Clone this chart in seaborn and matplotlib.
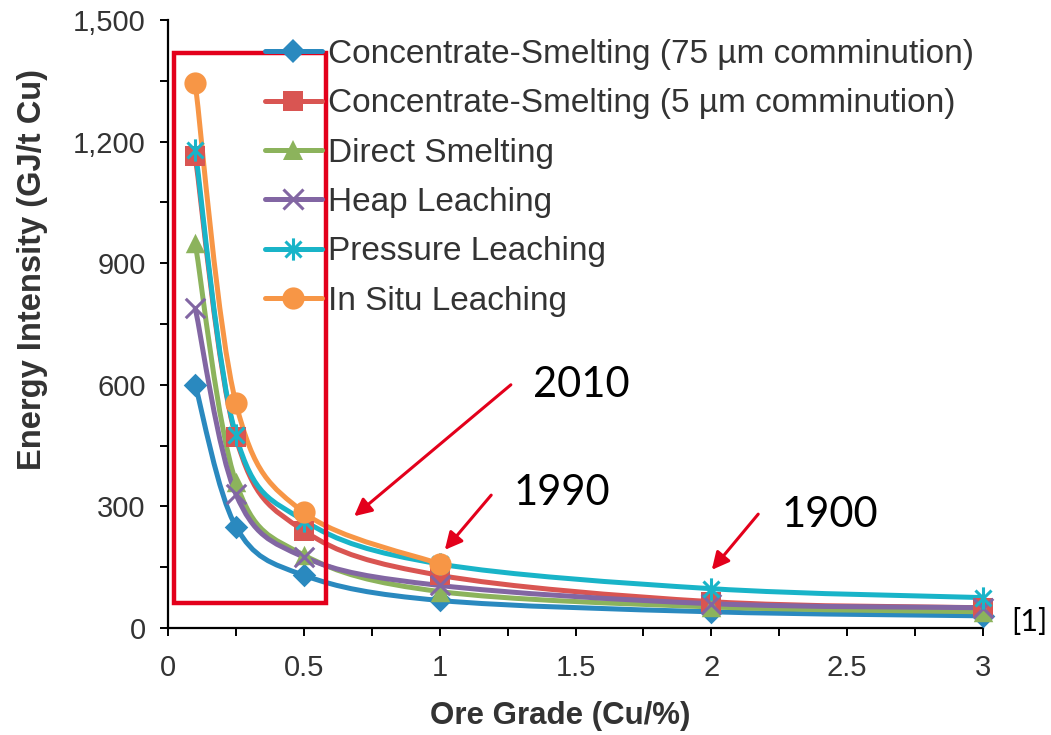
import matplotlib

matplotlib.use("Agg")
import matplotlib.pyplot as plt
import numpy as np
import seaborn as sns
from matplotlib.lines import Line2D
from matplotlib.patches import FancyArrowPatch, PathPatch, Rectangle
from matplotlib.path import Path
from matplotlib.ticker import MultipleLocator, StrMethodFormatter

""" Data read from the chart """
ore_grade = [0.1, 0.25, 0.5, 1, 2, 3]
conc_75um = [600, 250, 130, 68, 40, 30]
conc_5um = [1165, 470, 240, 130, 65, 50]
direct_smelting = [950, 360, 180, 90, 52, 40]
heap_leaching = [790, 330, 175, 105, 60, 50]
pressure_leaching = [1180, 475, 265, 158, 97, 75]
in_situ_grade = [0.1, 0.25, 0.5, 1]
in_situ_leaching = [1345, 555, 285, 158]

series_names = [
    "Concentrate-Smelting (75 µm comminution)",
    "Concentrate-Smelting (5 µm comminution)",
    "Direct Smelting",
    "Heap Leaching",
    "Pressure Leaching",
    "In Situ Leaching",
]
period_labels = ["2010", "1990", "1900"]

""" Style settings """
W, H = 1051, 735
colors = ["#2a89bf", "#d95552", "#8cb35c", "#8266a3", "#19b4c8", "#f79646"]
# spreadsheet-style asterisk: vertical bar plus an x
asterisk = Path(
    [(0, -1), (0, 1), (-0.72, -0.72), (0.72, 0.72), (-0.72, 0.72), (0.72, -0.72)],
    [Path.MOVETO, Path.LINETO] * 3,
)
markers = ["D", "s", "^", "x", asterisk, "o"]
marker_sizes = [12, 14, 14, 14, 16, 16]
line_markers = [False, False, False, True, True, False]
red = "#e3001b"
text_grey = "#333333"


def px(x, y):
    # figure pixel (from top-left) -> figure fraction
    return x / W, 1 - y / H


def smooth_path(xs, ys):
    # Catmull-Rom style bezier through the points, like a spreadsheet smoothed line
    pts = np.column_stack([xs, ys]).astype(float)
    n = len(pts)
    verts = [pts[0]]
    codes = [Path.MOVETO]
    for i in range(n - 1):
        p_prev = pts[i - 1] if i > 0 else pts[i]
        p_next2 = pts[i + 2] if i + 2 < n else pts[i + 1]
        c1 = pts[i] + (pts[i + 1] - p_prev) / 6
        c2 = pts[i + 1] - (p_next2 - pts[i]) / 6
        verts += [c1, c2, pts[i + 1]]
        codes += [Path.CURVE4] * 3
    return Path(verts, codes)


sns.set_style("white")
plt.rcParams["font.family"] = ["Liberation Sans", "DejaVu Sans"]

fig = plt.figure(figsize=(W / 100, H / 100), dpi=100)
ax = fig.add_axes([168 / W, 1 - 628 / H, (983 - 168) / W, (628 - 20) / H])

all_x = [ore_grade] * 5 + [in_situ_grade]
all_y = [conc_75um, conc_5um, direct_smelting, heap_leaching, pressure_leaching, in_situ_leaching]

handles = []
for xs, ys, name, c, m, ms, is_line in zip(
    all_x, all_y, series_names, colors, markers, marker_sizes, line_markers
):
    ax.add_patch(
        PathPatch(smooth_path(xs, ys), facecolor="none", edgecolor=c, lw=3.6,
                  zorder=2, clip_on=False)
    )
    mew = 2.2 if is_line else 0
    sns.scatterplot(
        x=xs, y=ys, ax=ax, color=c, marker=m, s=ms ** 2, linewidth=mew,
        edgecolor=c, zorder=3, legend=False, clip_on=False,
    )
    handles.append(
        Line2D([], [], color=c, lw=3.6, marker=m, markersize=ms,
               markeredgewidth=2.2 if is_line else 0, label=name)
    )

ax.set_xlim(0, 3)
ax.set_ylim(0, 1500)
ax.xaxis.set_major_locator(MultipleLocator(0.5))
ax.xaxis.set_minor_locator(MultipleLocator(0.25))
ax.yaxis.set_major_locator(MultipleLocator(300))
ax.yaxis.set_minor_locator(MultipleLocator(150))
ax.yaxis.set_major_formatter(StrMethodFormatter("{x:,.0f}"))
ax.xaxis.set_major_formatter(StrMethodFormatter("{x:g}"))

for side in ["top", "right"]:
    ax.spines[side].set_visible(False)
for side in ["left", "bottom"]:
    ax.spines[side].set_color("black")
    ax.spines[side].set_linewidth(1.6)

ax.tick_params(axis="both", which="both", direction="out", length=6, width=1.4,
               color="black", left=True, bottom=True)
ax.tick_params(axis="x", which="major", labelsize=21, pad=13, labelcolor=text_grey)
ax.tick_params(axis="y", which="major", labelsize=21, pad=10, labelcolor=text_grey)

ax.set_xlabel("Ore Grade (Cu/%)", fontsize=22.5, fontweight="bold", color=text_grey)
ax.set_ylabel("Energy Intensity (GJ/t Cu)", fontsize=23.5, fontweight="bold", color=text_grey)
ax.xaxis.set_label_coords(0.481, -0.12)
ax.yaxis.set_label_coords(-0.147, 0.589)

fig.legend(
    handles=handles, loc="upper left", bbox_to_anchor=px(265, 39), frameon=False,
    fontsize=24, handlelength=1.7, handletextpad=0.18, labelspacing=0.55,
    borderpad=0, borderaxespad=0, labelcolor=text_grey,
)

# red highlight box over the low-grade region
x0, y0 = px(174, 603)
x1, y1 = px(326, 53)
fig.add_artist(Rectangle((x0, y0), x1 - x0, y1 - y0, transform=fig.transFigure,
                         fill=False, edgecolor=red, lw=3.2, zorder=5))

# period arrows and labels
arrow_pairs = [((513, 383), (352, 518)), ((493, 493), (443, 552)), ((760, 512), (710, 572))]
label_pos = [(581, 385), (562, 493), (830, 515)]
for (start, end), lab, pos in zip(arrow_pairs, period_labels, label_pos):
    fig.add_artist(
        FancyArrowPatch(
            px(*start), px(*end), transform=fig.transFigure, arrowstyle="-|>",
            mutation_scale=26, color=red, lw=2.2, zorder=6,
        )
    )
    fig.text(*px(*pos), lab, ha="center", va="center", fontsize=30,
             family=["Lato", "DejaVu Sans"], color="black")

fig.text(*px(1029, 622), "[1]", ha="center", va="center", fontsize=22,
         family=["Lato", "DejaVu Sans"], color="black")

fig.savefig("out.png", dpi=100)
